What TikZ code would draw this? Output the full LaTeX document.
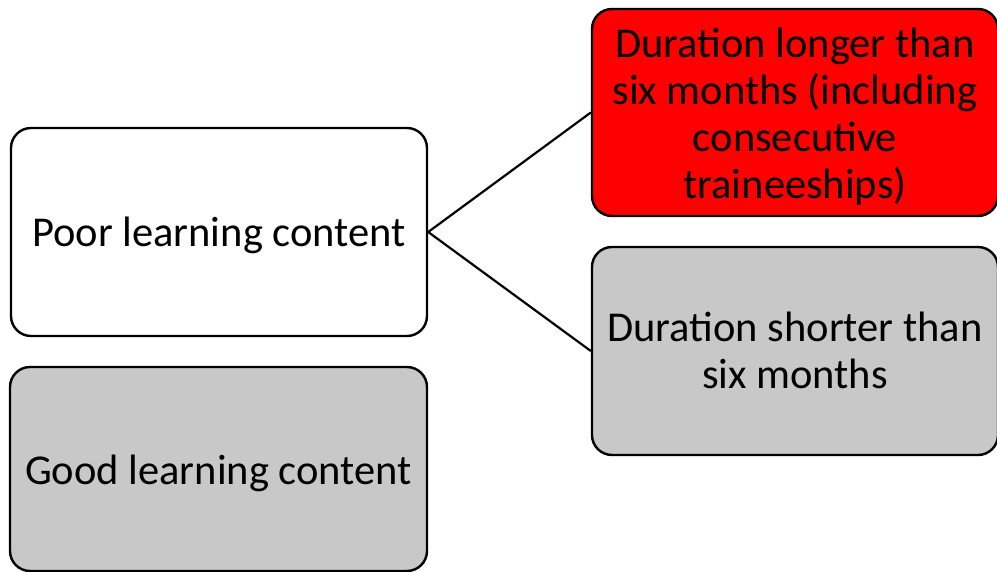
\documentclass[tikz,border=0pt]{standalone}
\usepackage{fontspec}
\setmainfont{Carlito}
\definecolor{boxgray}{HTML}{C8C8C8}
\definecolor{boxred}{HTML}{FF0000}
\begin{document}
\begin{tikzpicture}[x=1pt,y=-1pt,
  box/.style={draw=black, line width=2.4pt, rounded corners=20pt, align=center,
    inner sep=0pt, font=\fontsize{42.5}{47}\selectfont},
  conn/.style={draw=black, line width=2.2pt}]
\useasboundingbox[fill=white] (0,0) rectangle (997,572);
\node[box, fill=white, minimum width=416pt, minimum height=208pt] (poor) at (219,232) {};
\node[box, fill=boxgray, minimum width=417pt, minimum height=204pt] (good) at (218.5,469) {};
\node[box, fill=boxred, minimum width=406pt, minimum height=207pt] (long) at (795,112.5) {};
\node[box, fill=boxgray, minimum width=406pt, minimum height=208pt] (short) at (795,351) {};
\node[box, draw=none] (poortext) at ([yshift=-3pt]poor.center) {Poor learning content};
\node[box, draw=none] (goodtext) at ([yshift=-4pt]good.center) {Good learning content};
\node[box, draw=none] (longtext) at ([yshift=-4pt]long.center) {Duration longer than\\six months (including\\consecutive\\traineeships)};
\node[box, draw=none] (shorttext) at ([yshift=1pt]short.center) {Duration shorter than\\six months};
\draw[conn] (poor.east) -- (long.west);
\draw[conn] (poor.east) -- (short.west);
\end{tikzpicture}
\end{document}
